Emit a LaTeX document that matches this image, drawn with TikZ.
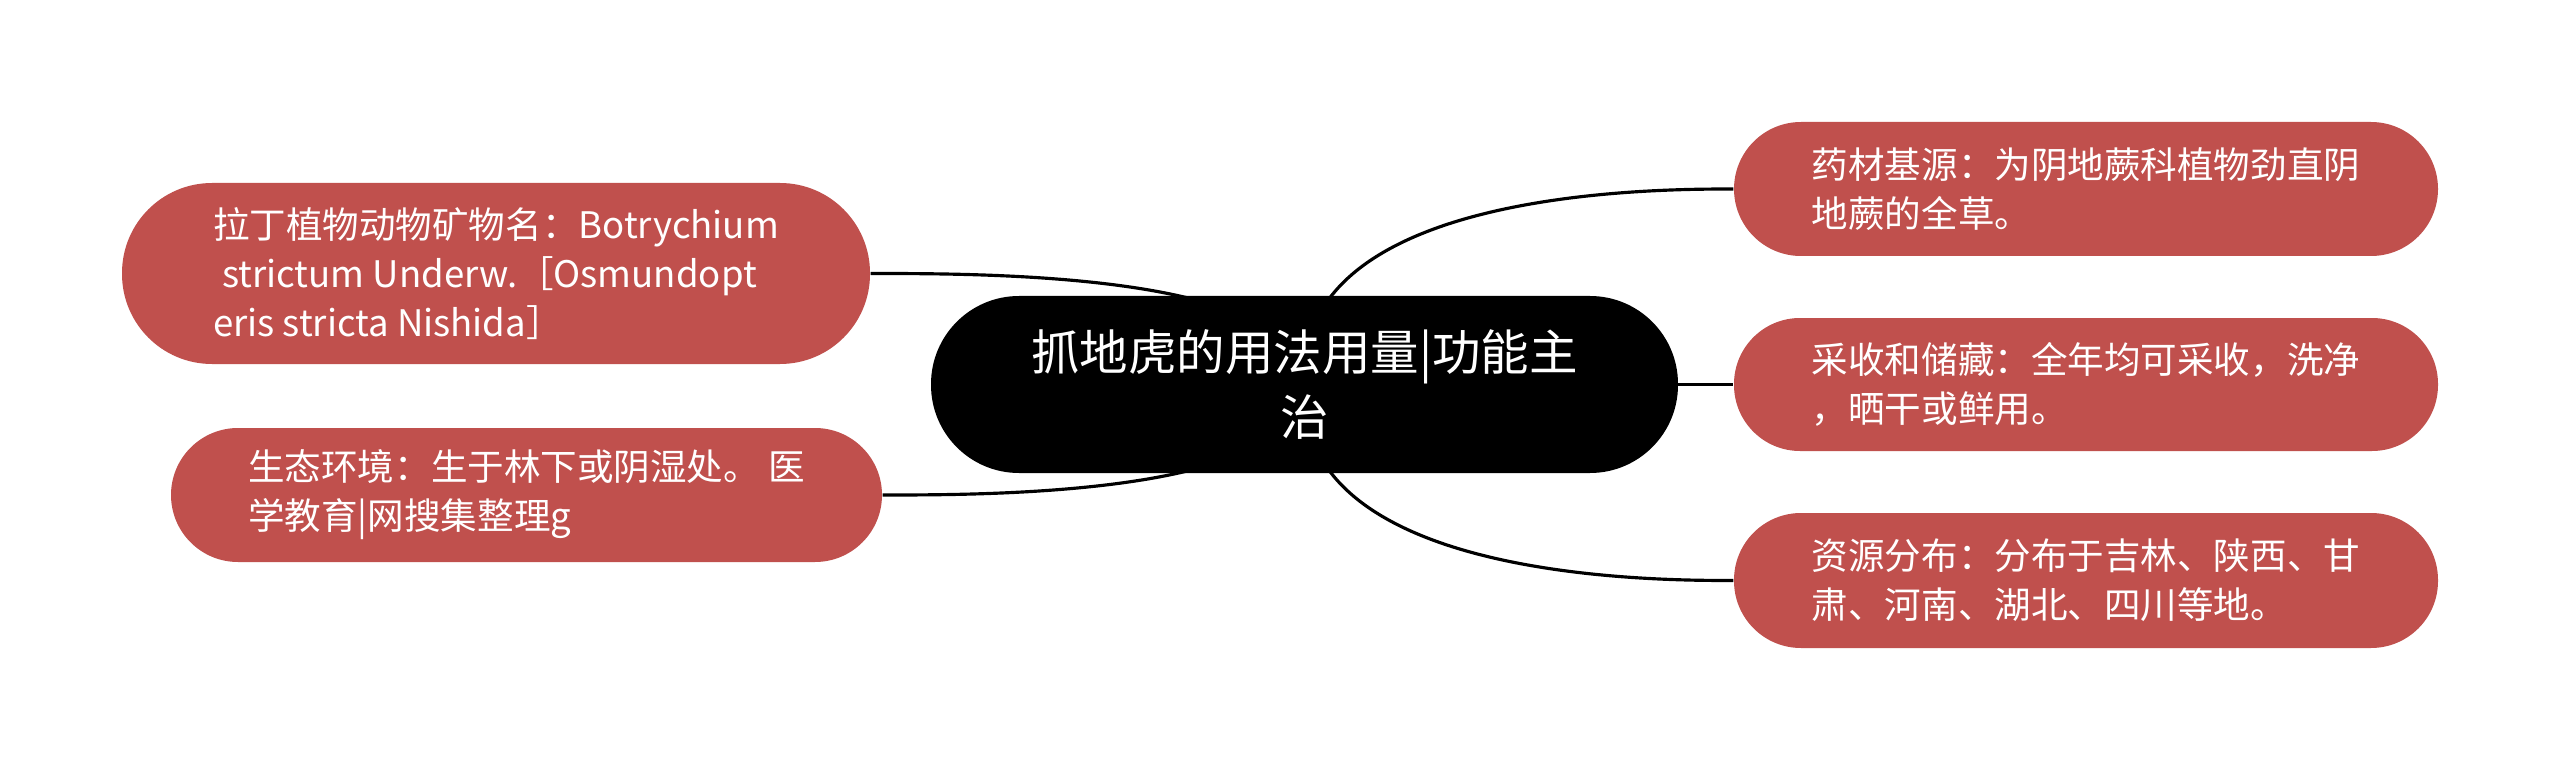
\documentclass[tikz,border=0pt]{standalone}
\usepackage{fontspec}
\setmainfont{Noto Sans CJK SC}
\usetikzlibrary{backgrounds}
\definecolor{nodered}{RGB}{192,80,77}
\begin{document}
\begin{tikzpicture}[x=1cm,y=1cm,
  leaf/.style={fill=nodered, text=white, font=\fontsize{10.4}{13.9}\selectfont, align=left, inner sep=0pt},
  root/.style={fill=black, text=white, font=\fontsize{13.8}{18.5}\selectfont, align=center, inner sep=0pt,
    minimum width=7.47cm, minimum height=1.77cm, rounded corners=0.88cm},
  link/.style={draw=black, line width=0.9pt}]
\useasboundingbox (0,0) rectangle (25.6,-7.71);

\node[root] (root) at (13.045,-3.845) {抓地虎的用法用量|功能主\\治};

\node[leaf, minimum width=7.48cm, minimum height=1.81cm, rounded corners=0.9cm] (lt) at (4.96,-2.735)
  {拉丁植物动物矿物名：Botrychium\\\hspace{0.25em}strictum Underw.［Osmundopt\\eris stricta Nishida］};
\node[leaf, minimum width=7.11cm, minimum height=1.34cm, rounded corners=0.67cm] (lb) at (5.265,-4.95)
  {生态环境：生于林下或阴湿处。 医\\学教育|网搜集整理g};
\node[leaf, minimum width=7.04cm, minimum height=1.34cm, rounded corners=0.67cm] (rt) at (20.86,-1.89)
  {药材基源：为阴地蕨科植物劲直阴\\地蕨的全草。};
\node[leaf, minimum width=7.04cm, minimum height=1.33cm, rounded corners=0.66cm] (rm) at (20.86,-3.845)
  {采收和储藏：全年均可采收，洗净\\，晒干或鲜用。};
\node[leaf, minimum width=7.04cm, minimum height=1.35cm, rounded corners=0.67cm] (rb) at (20.86,-5.805)
  {资源分布：分布于吉林、陕西、甘\\肃、河南、湖北、四川等地。};

\begin{scope}[on background layer]
\fill[white] (0,0) rectangle (25.6,-7.71);
\draw[link] (root.center) .. controls (12.925,-1.89) and (16.556,-1.89) .. (rt.west);
\draw[link] (root.center) .. controls (12.925,-5.805) and (16.556,-5.805) .. (rb.west);
\draw[link] (root.center) -- (rm.west);
\draw[link] (root.center) .. controls (13.02,-2.735) and (9.93,-2.735) .. (lt.east);
\draw[link] (root.center) .. controls (13.02,-4.95) and (9.93,-4.95) .. (lb.east);
\end{scope}
\end{tikzpicture}
\end{document}
